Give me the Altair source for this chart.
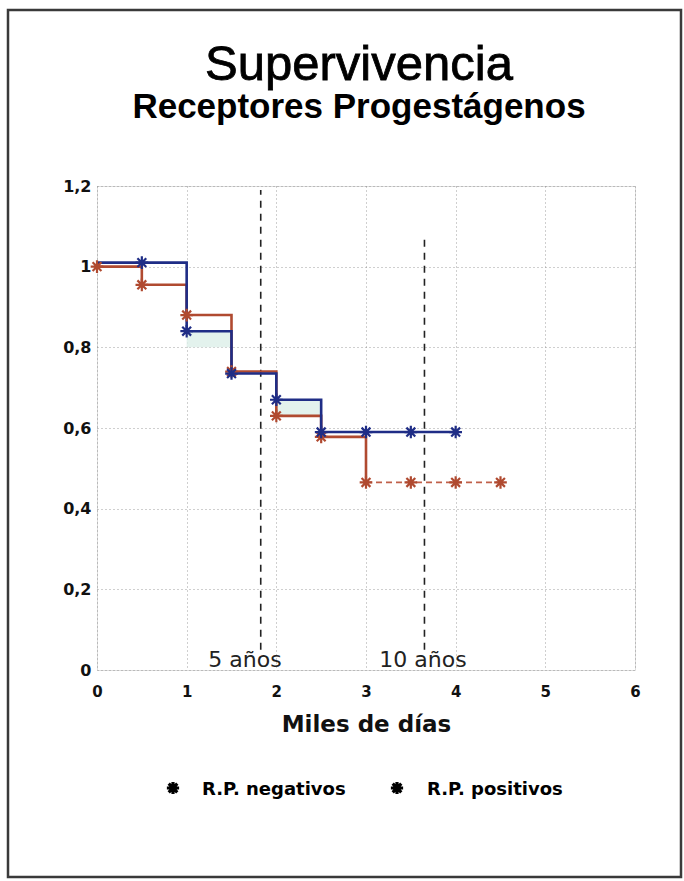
import altair as alt
import pandas as pd

# ---------------- data ----------------
grupos = ["R.P. negativos", "R.P. positivos"]
colores = ["#b04a30", "#1f2d86"]

# step curves (thousands of days, survival)
t_neg = [0, 0.5, 1, 1.5, 2, 2.5, 3]
s_neg = [1.0, 0.955, 0.88, 0.74, 0.63, 0.578, 0.465]
t_neg_cens = [3, 4.5]
s_neg_cens = [0.465, 0.465]

t_pos = [0, 1, 1.5, 2, 2.5, 4]
s_pos = [1.01, 0.84, 0.735, 0.67, 0.59, 0.59]

# asterisk markers
m_neg_t = [0, 0.5, 1, 1.5, 2, 2.5, 3, 3.5, 4, 4.5]
m_neg_s = [1.0, 0.955, 0.88, 0.74, 0.63, 0.578, 0.465, 0.465, 0.465, 0.465]
m_pos_t = [0.5, 1, 1.5, 2, 2.5, 3, 3.5, 4]
m_pos_s = [1.01, 0.84, 0.735, 0.67, 0.59, 0.59, 0.59, 0.59]

# faint shaded bands
band_x = [1, 2]
band_x2 = [1.5, 2.5]
band_lo = [0.80, 0.63]
band_hi = [0.84, 0.67]

# reference lines (5 and 10 years in thousands of days)
ref_x = [1.826, 3.652]
ref_y = [0.05, 0.05]
ref_y2 = [1.19, 1.07]
ref_lab = ["5 años", "10 años"]
ref_lab_x = [1.65, 3.635]
ref_lab_y = [0.008, 0.008]

x_ticks = [0, 1, 2, 3, 4, 5, 6]
y_ticks = [0, 0.2, 0.4, 0.6, 0.8, 1.0, 1.2]

titulo = "Supervivencia"
subtitulo = "Receptores Progestágenos"

# ---------------- tables ----------------
df_neg = pd.DataFrame({"t": t_neg, "s": s_neg, "serie": grupos[0]})
df_pos = pd.DataFrame({"t": t_pos, "s": s_pos, "serie": grupos[1]})
df_lines = pd.concat([df_neg, df_pos], ignore_index=True)
df_cens = pd.DataFrame({"t": t_neg_cens, "s": s_neg_cens})
df_marks = pd.concat([
    pd.DataFrame({"t": m_neg_t, "s": m_neg_s, "serie": grupos[0]}),
    pd.DataFrame({"t": m_pos_t, "s": m_pos_s, "serie": grupos[1]}),
], ignore_index=True)
df_band = pd.DataFrame({"x": band_x, "x2": band_x2, "lo": band_lo, "hi": band_hi})
df_ref = pd.DataFrame({"x": ref_x, "y": ref_y, "y2": ref_y2})
df_lab = pd.DataFrame({"x": ref_lab_x, "y": ref_lab_y, "lab": ref_lab})
one = pd.DataFrame({"k": [0]})

ASTER8 = "M0,-1L0,1M-1,0L1,0M-0.7,-0.7L0.7,0.7M-0.7,0.7L0.7,-0.7"

xs = alt.Scale(domain=[0, 6], nice=False, zero=False)
ys = alt.Scale(domain=[0, 1.2], nice=False, zero=False)
cs = alt.Scale(domain=grupos, range=colores)

X = alt.X("t:Q", scale=xs, axis=alt.Axis(
    values=x_ticks, title="Miles de días", grid=True, gridDash=[1, 3],
    gridColor="#888", gridOpacity=0.8, tickSize=0, labelPadding=14,
    labelFont="DejaVu Sans", labelFontWeight="bold", labelFontSize=15, labelColor="#111",
    titleFont="DejaVu Sans", titleFontWeight="bold", titleFontSize=23, titleColor="#111",
    titlePadding=14, domain=False, labelFlush=False,
    labelExpr="toString(datum.value)"))
Y = alt.Y("s:Q", scale=ys, axis=alt.Axis(
    values=y_ticks, title=None, grid=True, gridDash=[1, 3], gridColor="#888",
    gridOpacity=0.8, tickSize=0, labelPadding=6,
    labelFont="DejaVu Sans", labelFontWeight="bold", labelFontSize=16, labelColor="#111",
    domain=False, labelExpr="replace(toString(datum.value), '.', ',')"))

frame = alt.Chart(one).mark_rect(
    fill=None, stroke="#3a3a3a", strokeWidth=2.5
).encode(x=alt.value(-89), x2=alt.value(584), y=alt.value(-176), y2=alt.value(691))

title_t = alt.Chart(one).mark_text(
    text=titulo, font="Liberation Sans", fontSize=49, color="#000",
    stroke="#000", strokeWidth=0.8,
    align="center", baseline="alphabetic"
).encode(x=alt.value(262), y=alt.value(-106))
subtitle_t = alt.Chart(one).mark_text(
    text=subtitulo, font="Liberation Sans", fontSize=35, fontWeight="bold", color="#000",
    align="center", baseline="alphabetic"
).encode(x=alt.value(262), y=alt.value(-68))

band = alt.Chart(df_band).mark_rect(color="#dcefe8", opacity=0.8).encode(
    x=alt.X("x:Q", scale=xs), x2="x2:Q",
    y=alt.Y("lo:Q", scale=ys), y2="hi:Q")

# axes carrier (grid, labels)
axes = alt.Chart(df_lines).mark_point(opacity=0).encode(x=X, y=Y)

refs = alt.Chart(df_ref).mark_rule(color="#222", strokeDash=[7, 6], strokeWidth=1.6).encode(
    x=alt.X("x:Q", scale=xs), y=alt.Y("y:Q", scale=ys), y2="y2:Q")

labs = alt.Chart(df_lab).mark_text(font="DejaVu Sans", fontSize=22, color="#222",
                                   baseline="alphabetic").encode(
    x=alt.X("x:Q", scale=xs), y=alt.Y("y:Q", scale=ys), text="lab:N")

lines = alt.Chart(df_lines).mark_line(interpolate="step-after", strokeWidth=2.6).encode(
    x=alt.X("t:Q", scale=xs), y=alt.Y("s:Q", scale=ys),
    color=alt.Color("serie:N", scale=cs, legend=None), detail="serie:N",
    order="t:Q")

cens = alt.Chart(df_cens).mark_line(strokeWidth=1.8, strokeDash=[6, 4], color="#c0604a").encode(
    x=alt.X("t:Q", scale=xs), y=alt.Y("s:Q", scale=ys))

marks = alt.Chart(df_marks).mark_point(filled=False, size=160, strokeWidth=2.2, opacity=1,
                                       shape=ASTER8).encode(
    x=alt.X("t:Q", scale=xs), y=alt.Y("s:Q", scale=ys),
    color=alt.Color("serie:N", scale=cs, legend=None))

# legend (drawn manually: black asterisks with bold labels)
leg_sym_x = [76, 300]
leg_txt_x = [105, 330]
leg_parts = []
for i, g in enumerate(grupos):
    leg_parts.append(alt.Chart(one).mark_point(
        shape=ASTER8, filled=False, size=150, strokeWidth=3.2, color="#000", opacity=1
    ).encode(x=alt.value(leg_sym_x[i]), y=alt.value(602)))
    leg_parts.append(alt.Chart(one).mark_text(
        text=g, font="DejaVu Sans", fontWeight="bold", fontSize=18, color="#000",
        align="left", baseline="alphabetic"
    ).encode(x=alt.value(leg_txt_x[i]), y=alt.value(609)))

chart = alt.layer(frame, title_t, subtitle_t, band, axes, refs, labs, lines, cens, marks,
                  *leg_parts).properties(
    width=538, height=484,
    padding={"left": 97, "top": 186, "right": 49, "bottom": 211},
    autosize=alt.AutoSizeParams(type="none"),
).configure_view(stroke="#222", strokeWidth=1.6).configure(background="white")

chart.save("out.html", embed_options={"renderer": "svg", "actions": False})
